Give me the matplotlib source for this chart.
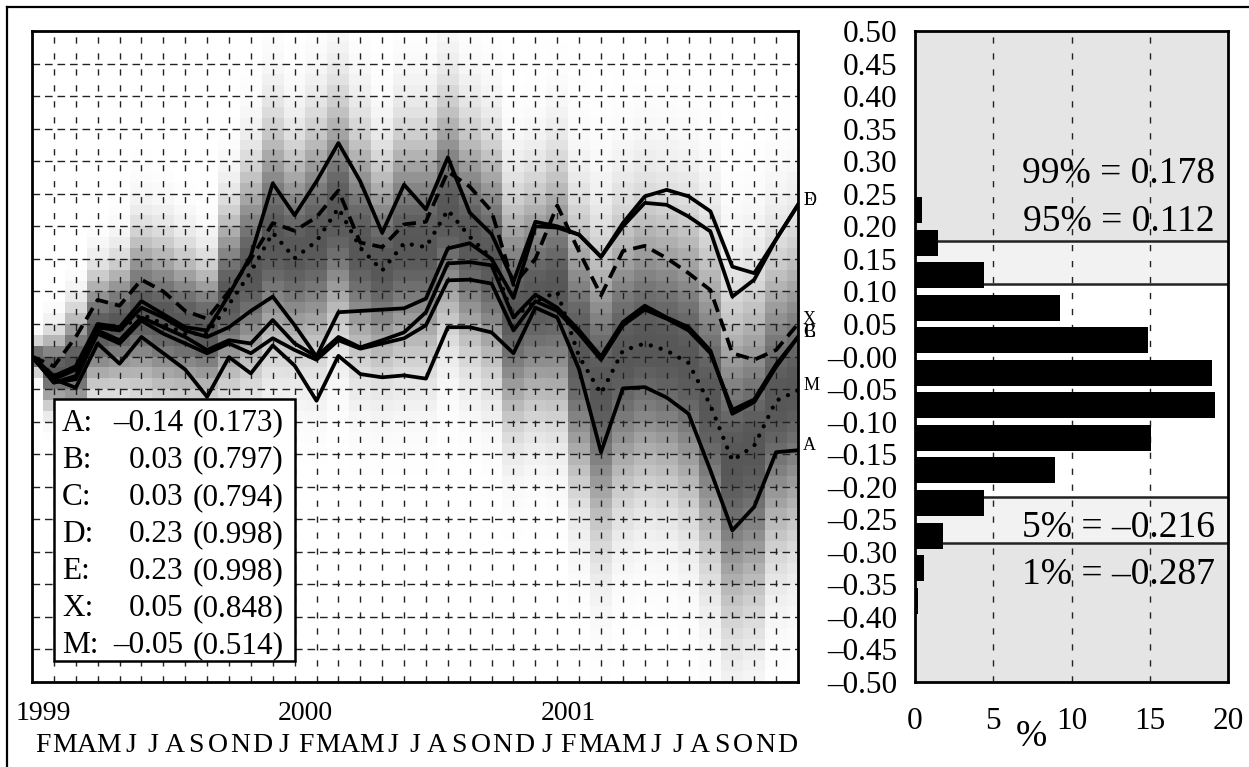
import numpy as np
import matplotlib
matplotlib.use('Agg')
import matplotlib.pyplot as plt
from matplotlib.lines import Line2D
from matplotlib.patches import Rectangle

plt.rcParams['font.family'] = ['Liberation Serif', 'DejaVu Serif']

# monthly paths, Jan 1999 .. Dec 2001 (index 0..35)
A = [0, -0.035, -0.048, 0.02, -0.011, 0.03, 0.005, -0.02, -0.062, -0.001, -0.026, 0.017,
     -0.014, -0.068, 0.001, -0.027, -0.032, -0.029, -0.034, 0.045, 0.045, 0.037, 0.005, 0.075,
     0.06, -0.02, -0.147, -0.049, -0.047, -0.063, -0.088, -0.175, -0.267, -0.231, -0.147, -0.144]
B = [0, -0.04, -0.03, 0.04, 0.025, 0.06, 0.045, 0.03, 0.01, 0.025, 0.02, 0.056,
     0.02, 0.0, 0.03, 0.014, 0.025, 0.037, 0.068, 0.143, 0.145, 0.14, 0.06, 0.095,
     0.075, 0.04, 0.0, 0.053, 0.078, 0.06, 0.045, 0.009, -0.088, -0.07, -0.016, 0.03]
C = [0, -0.04, -0.035, 0.035, 0.02, 0.055, 0.035, 0.02, 0.005, 0.02, 0.005, 0.028,
     0.01, -0.005, 0.025, 0.012, 0.02, 0.028, 0.048, 0.117, 0.118, 0.112, 0.04, 0.085,
     0.07, 0.035, -0.005, 0.048, 0.072, 0.058, 0.04, 0.005, -0.082, -0.066, -0.012, 0.03]
D = [0, -0.03, -0.015, 0.05, 0.045, 0.085, 0.065, 0.045, 0.04, 0.095, 0.155, 0.266,
     0.217, 0.269, 0.328, 0.269, 0.19, 0.264, 0.226, 0.306, 0.221, 0.188, 0.115, 0.207,
     0.20, 0.187, 0.153, 0.205, 0.246, 0.256, 0.246, 0.223, 0.138, 0.128, 0.18, 0.233]
E = [0, -0.035, -0.02, 0.045, 0.04, 0.075, 0.06, 0.04, 0.03, 0.045, 0.07, 0.092,
     0.048, 0.0, 0.068, 0.07, 0.072, 0.074, 0.089, 0.166, 0.174, 0.15, 0.09, 0.2,
     0.198, 0.187, 0.153, 0.2, 0.236, 0.233, 0.215, 0.192, 0.092, 0.118, 0.18, 0.233]
X = [0, -0.015, 0.03, 0.087, 0.078, 0.118, 0.10, 0.07, 0.058, 0.10, 0.15, 0.205,
     0.193, 0.214, 0.255, 0.175, 0.168, 0.203, 0.207, 0.284, 0.261, 0.223, 0.11, 0.15,
     0.232, 0.161, 0.094, 0.162, 0.17, 0.151, 0.128, 0.102, 0.005, -0.005, 0.01, 0.05]
M = [0, -0.03, -0.02, 0.045, 0.04, 0.065, 0.05, 0.035, 0.035, 0.08, 0.13, 0.19,
     0.151, 0.177, 0.228, 0.167, 0.132, 0.174, 0.168, 0.225, 0.184, 0.151, 0.06, 0.085,
     0.099, 0.0, -0.057, 0.009, 0.02, 0.009, -0.01, -0.075, -0.16, -0.137, -0.068, -0.052]

# grey background: centre and spread of the simulated paths per month
shade_mid = [0.0, -0.02, -0.01, 0.04, 0.05, 0.07, 0.06, 0.05, 0.04, 0.09, 0.13, 0.18,
             0.16, 0.18, 0.22, 0.17, 0.14, 0.17, 0.17, 0.22, 0.18, 0.15, 0.07, 0.09,
             0.10, 0.01, -0.05, 0.0, 0.02, 0.01, -0.01, -0.07, -0.16, -0.14, -0.07, -0.05]
shade_sd = [0.015, 0.035, 0.05, 0.055, 0.06, 0.075, 0.075, 0.07, 0.065, 0.085, 0.1, 0.11,
            0.1, 0.11, 0.11, 0.11, 0.1, 0.11, 0.11, 0.11, 0.11, 0.11, 0.11, 0.11,
            0.12, 0.13, 0.14, 0.135, 0.135, 0.135, 0.14, 0.15, 0.15, 0.15, 0.14, 0.14]

month_letters = list('FMAMJJASOND') + list('JFMAMJJASOND') * 2
years = ['1999', '2000', '2001']

legend_rows = [('A:', '\u20130.14', '(0.173)'),
               ('B:', '0.03', '(0.797)'),
               ('C:', '0.03', '(0.794)'),
               ('D:', '0.23', '(0.998)'),
               ('E:', '0.23', '(0.998)'),
               ('X:', '0.05', '(0.848)'),
               ('M:', '\u20130.05', '(0.514)')]

# histogram of the simulated end values (% per 0.05 bin)
hist_centres = [0.275, 0.225, 0.175, 0.125, 0.075, 0.025, -0.025, -0.075, -0.125,
                -0.175, -0.225, -0.275, -0.325, -0.375]
hist_pct = [0.08, 0.43, 1.5, 4.4, 9.25, 14.9, 19.0, 19.2, 15.1, 8.95, 4.4, 1.77, 0.57, 0.17]
q99, q95, q05, q01 = 0.178, 0.112, -0.216, -0.287

W, H = 1249, 767
fig = plt.figure(figsize=(W / 100, H / 100), dpi=100)
ax = fig.add_axes([32 / W, 1 - 682 / H, 766 / W, 651 / H])
ax2 = fig.add_axes([915 / W, 1 - 682 / H, 313 / W, 651 / H])

# ---- left panel ----
mid = np.array(shade_mid)
sd = np.array(shade_sd)
yc = np.linspace(-0.5 + 1 / 120, 0.5 - 1 / 120, 60)
dens = np.exp(-0.5 * ((yc[:, None] - mid[None, :]) / sd[None, :]) ** 2)
ax.imshow(1 - 0.66 * dens, cmap='gray', vmin=0, vmax=1, origin='lower',
          extent=(-0.5, 35.5, -0.5, 0.5), aspect='auto', interpolation='nearest', zorder=0)

for k in range(1, 35):
    ax.axvline(k, color='#222222', lw=1, ls=(0, (4.5, 7)), zorder=1)
for v in np.arange(-0.45, 0.46, 0.05):
    ax.axhline(v, color='#222222', lw=1, ls=(0, (5.5, 3.5)), zorder=1)

t = np.arange(36)
for s in [A, B, C, D, E]:
    ax.plot(t, s, color='black', lw=2.7, zorder=3)
ax.plot(t, X, color='black', lw=2.7, dashes=(3.5, 1.9), zorder=3)
ax.plot(t, M, color='black', lw=3.1, dashes=(0.01, 2.4), dash_capstyle='round', zorder=3)

for name, s in zip('ABCDEXM', [A, B, C, D, E, X, M]):
    ax.text(35.23, s[-1], name, fontsize=13, ha='left', va='baseline', clip_on=False)

ax.add_patch(Rectangle((1, -0.468), 11, 0.402, facecolor='white', edgecolor='black',
                       lw=1.8, zorder=4))
for i, (lab, val, p) in enumerate(legend_rows):
    yb = -0.1137 - i * 0.057
    ax.text(1.37, yb, lab, fontsize=22.5, ha='left', va='baseline', zorder=5)
    ax.text(6.9, yb, val, fontsize=22.5, ha='right', va='baseline', zorder=5)
    ax.text(7.36, yb, p, fontsize=22.5, ha='left', va='baseline', zorder=5)

ax.set_xlim(0, 35)
ax.set_ylim(-0.5, 0.5)
ax.set_xticks([])
ax.set_yticks([])
for sp in ax.spines.values():
    sp.set_linewidth(2)

for i, let in enumerate(month_letters):
    ax.text(i + 0.5, -0.608, let, fontsize=20, ha='center', va='baseline', clip_on=False)
for i, yr in enumerate(years):
    ax.text(12 * i + 0.5, -0.559, yr, fontsize=20, ha='center', va='baseline', clip_on=False)

# ---- right panel ----
ax2.axhspan(q99, 0.5, color='#e5e5e5', zorder=0)
ax2.axhspan(q95, q99, color='#f2f2f2', zorder=0)
ax2.axhspan(q01, q05, color='#f2f2f2', zorder=0)
ax2.axhspan(-0.5, q01, color='#e5e5e5', zorder=0)
for q in [q99, q95, q05, q01]:
    ax2.axhline(q, color='#222222', lw=1.8, zorder=1)
for xv in [5, 10, 15]:
    ax2.axvline(xv, color='#222222', lw=1, ls=(0, (4.5, 7)), zorder=1)
ax2.barh(hist_centres, hist_pct, height=0.04, color='black', zorder=3)

ax2.text(19.17, 0.266, '99% = 0.178', fontsize=27, ha='right', va='baseline', zorder=4)
ax2.text(19.17, 0.1935, '95% = 0.112', fontsize=27, ha='right', va='baseline', zorder=4)
ax2.text(19.17, -0.278, '5% = \u20130.216', fontsize=27, ha='right', va='baseline', zorder=4)
ax2.text(19.17, -0.349, '1% = \u20130.287', fontsize=27, ha='right', va='baseline', zorder=4)

yt = np.round(np.arange(-0.5, 0.501, 0.05), 2)
ax2.set_ylim(-0.5, 0.5)
ax2.set_xlim(0, 20)
ax2.set_yticks(yt)
ax2.set_yticklabels([('%.2f' % v).replace('-', '\u2013') for v in yt], fontsize=22.5)
ax2.set_xticks([0, 5, 10, 15, 20])
ax2.set_xticklabels(['0', '5', '10', '15', '20'], fontsize=22.5)
ax2.tick_params(axis='y', length=0, pad=13)
ax2.tick_params(axis='x', length=0, pad=18)
for sp in ax2.spines.values():
    sp.set_linewidth(2)
fig.text(1031 / W, 1 - 737 / H, '%', fontsize=27, ha='center', va='center')

# frame around the whole figure
fig.add_artist(Line2D([7 / W, 7 / W], [0, 1 - 7 / H], color='black', lw=1.6))
fig.add_artist(Line2D([7 / W, 1], [1 - 7 / H, 1 - 7 / H], color='black', lw=1.6))

fig.savefig('out.png', dpi=100)
